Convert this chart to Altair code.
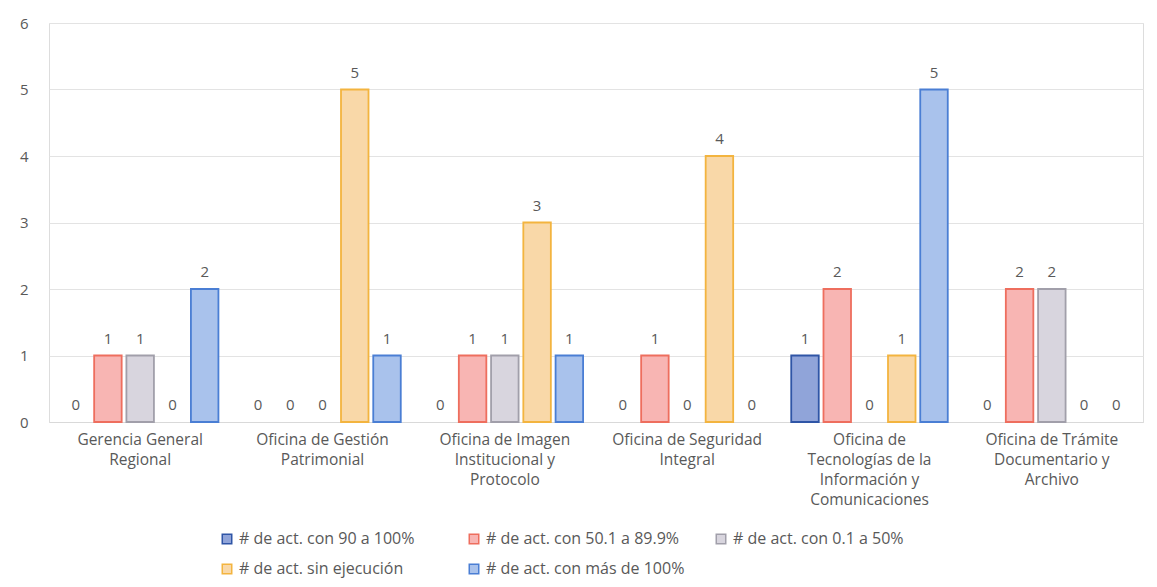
import altair as alt
import pandas as pd

categories = [
    "Gerencia General Regional",
    "Oficina de Gestión Patrimonial",
    "Oficina de Imagen Institucional y Protocolo",
    "Oficina de Seguridad Integral",
    "Oficina de Tecnologías de la Información y Comunicaciones",
    "Oficina de Trámite Documentario y Archivo",
]
category_lines = [
    ["Gerencia General", "Regional"],
    ["Oficina de Gestión", "Patrimonial"],
    ["Oficina de Imagen", "Institucional y", "Protocolo"],
    ["Oficina de Seguridad", "Integral"],
    ["Oficina de", "Tecnologías de la", "Información y", "Comunicaciones"],
    ["Oficina de Trámite", "Documentario y", "Archivo"],
]
series = [
    "# de act. con 90 a 100%",
    "# de act. con 50.1 a 89.9%",
    "# de act. con 0.1 a 50%",
    "# de act. sin ejecución",
    "# de act. con más de 100%",
]
v_90_100 = [0, 0, 0, 0, 1, 0]
v_50_90 = [1, 0, 1, 1, 2, 2]
v_01_50 = [1, 0, 1, 0, 0, 2]
v_sin = [0, 5, 3, 4, 1, 0]
v_mas100 = [2, 1, 1, 0, 5, 0]
values = [v_90_100, v_50_90, v_01_50, v_sin, v_mas100]

fills = ["#90A4D9", "#F8B5B3", "#D8D5DE", "#F9D8A8", "#A9C2EC"]
strokes = ["#2F55A6", "#EE6E5E", "#A19FAA", "#F3B43F", "#4A7ED4"]

rows = []
for s, vals in zip(series, values):
    for c, v in zip(categories, vals):
        rows.append({"cat": c, "serie": s, "val": v})
df = pd.DataFrame(rows)

label_map = "{" + ",".join(
    "'" + c + "':[" + ",".join("'" + l + "'" for l in lines) + "]"
    for c, lines in zip(categories, category_lines)
) + "}"

FONT = "Open Sans"
TXT = "#595959"

x_enc = alt.X(
    "cat:N",
    sort=categories,
    scale=alt.Scale(paddingInner=0, paddingOuter=0),
    axis=alt.Axis(
        title=None,
        labelAngle=0,
        ticks=False,
        domain=True,
        domainColor="#D9D9D9",
        labelExpr=label_map + "[datum.label]",
        labelFont=FONT,
        labelFontSize=15.5,
        labelColor=TXT,
        labelPadding=10,
        labelLineHeight=20,
        labelBaseline="top",
        labelLimit=300,
    ),
)
xoff = alt.XOffset(
    "serie:N",
    sort=series,
    scale=alt.Scale(domain=series, paddingInner=0.147, paddingOuter=0.4),
)
color_scale = alt.Scale(domain=series, range=fills)
stroke_scale = alt.Scale(domain=series, range=strokes)

legend = alt.Legend(
    title=None,
    orient="none",
    direction="horizontal",
    legendX=170,
    legendY=508,
    columns=3,
    columnPadding=28,
    rowPadding=14,
    symbolType="square",
    symbolSize=90,
    symbolStrokeWidth=1.5,
    labelFont=FONT,
    labelFontSize=16,
    labelColor=TXT,
    labelLimit=400,
    gridAlign="all",
)

y_enc = alt.Y(
    "val:Q",
    scale=alt.Scale(domain=[0, 6], nice=False),
    axis=alt.Axis(
        title=None,
        values=[0, 1, 2, 3, 4, 5, 6],
        format="d",
        ticks=False,
        domain=False,
        gridColor="#E3E3E3",
        labelFont=FONT,
        labelFontSize=15,
        labelColor=TXT,
        labelPadding=21,
    ),
)

bars = alt.Chart(df).transform_filter("datum.val > 0").mark_bar(strokeWidth=1.8).encode(
    x=x_enc,
    xOffset=xoff,
    y=y_enc,
    color=alt.Color("serie:N", scale=color_scale, sort=series, legend=legend),
    stroke=alt.Stroke("serie:N", scale=stroke_scale, sort=series, legend=legend),
)

labels = alt.Chart(df).mark_text(
    font=FONT, fontSize=15, color=TXT, baseline="middle", dy=-17
).encode(
    x=alt.X("cat:N", sort=categories),
    xOffset=xoff,
    y=alt.Y("val:Q"),
    text=alt.Text("val:Q", format="d"),
)

chart = (
    alt.layer(bars, labels)
    .properties(
        width=1094,
        height=399,
        autosize=alt.AutoSizeParams(type="none"),
        padding={"left": 41, "top": 15, "right": 4, "bottom": 157},
    )
    .configure_view(stroke=None)
    .configure(background="white")
)

chart.save("out.html", embed_options={"renderer": "svg", "actions": False})
